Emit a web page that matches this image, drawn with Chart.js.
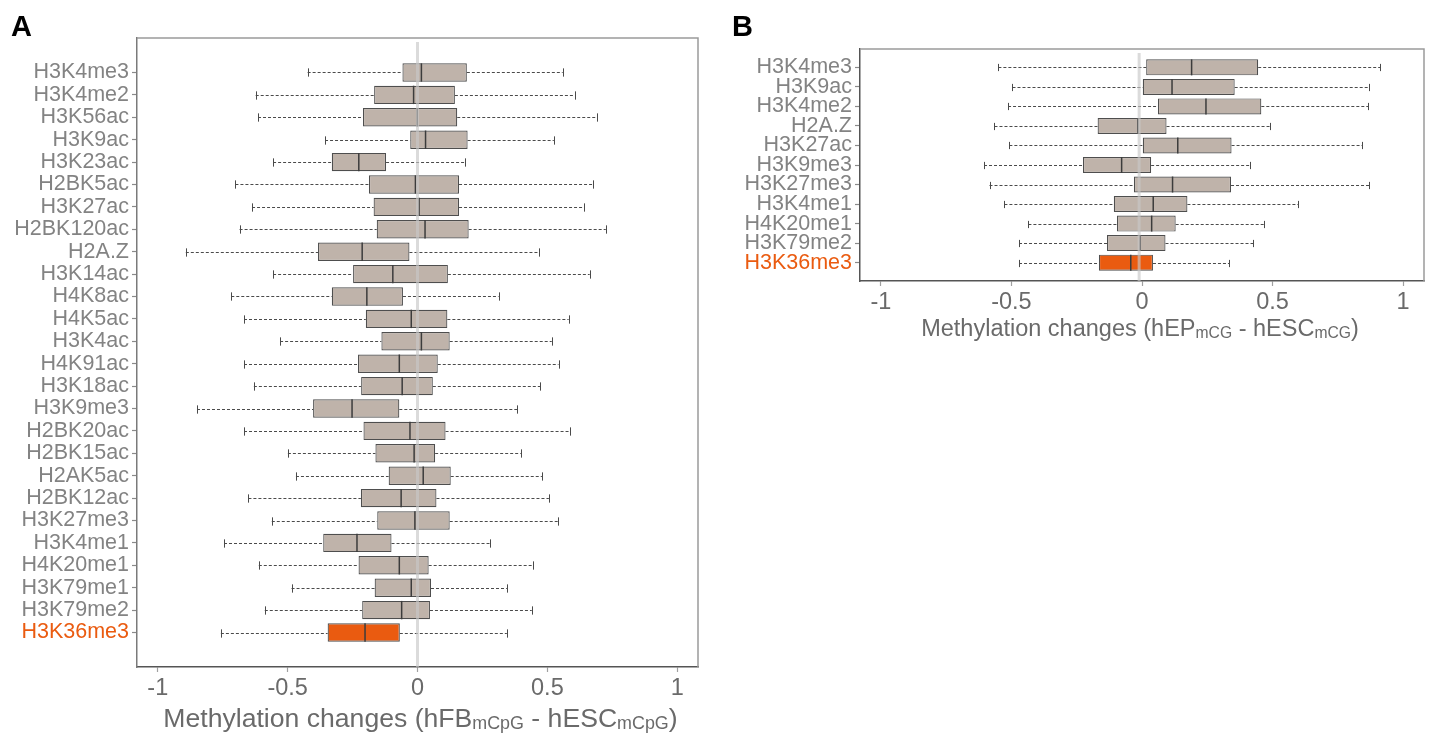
<!DOCTYPE html>
<html><head><meta charset="utf-8">
<script src="https://cdn.jsdelivr.net/npm/chart.js@4.4.1/dist/chart.umd.min.js"></script>
<style>
html,body{margin:0;padding:0;background:#fff;width:1435px;height:734px;overflow:hidden;position:relative;}
#wrapA{position:absolute;left:0;top:0;width:720px;height:734px;}
#wrapB{position:absolute;left:720px;top:0;width:715px;height:360px;}
.panel{position:absolute;font-family:'Liberation Sans',Arial,sans-serif;font-weight:bold;font-size:29px;line-height:29px;color:#000;}
.xt{position:absolute;font-family:'Liberation Sans',Arial,sans-serif;color:#6a6a6a;white-space:nowrap;text-align:center;}
.xt span{vertical-align:-1.5px;}
</style></head>
<body>
<div id="wrapA"><canvas id="cA" width="720" height="734"></canvas></div>
<div id="wrapB"><canvas id="cB" width="715" height="360"></canvas></div>
<div class="panel" style="left:11px;top:12px">A</div>
<div class="panel" style="left:732px;top:12px">B</div>
<div class="xt" style="left:140px;width:561px;top:705px;font-size:26.6px;line-height:26px">Methylation changes (hFB<span style="font-size:17.9px">mCpG</span> - hESC<span style="font-size:17.9px">mCpG</span>)</div>
<div class="xt" style="left:858px;width:564px;top:317px;font-size:23.5px;line-height:23.5px">Methylation changes (hEP<span style="font-size:15.7px">mCG</span> - hESC<span style="font-size:15.7px">mCG</span>)</div>
<script>
// ---------- Panel A data ----------
const catsA = ['H3K4me3','H3K4me2','H3K56ac','H3K9ac','H3K23ac','H2BK5ac','H3K27ac','H2BK120ac','H2A.Z','H3K14ac','H4K8ac','H4K5ac','H3K4ac','H4K91ac','H3K18ac','H3K9me3','H2BK20ac','H2BK15ac','H2AK5ac','H2BK12ac','H3K27me3','H3K4me1','H4K20me1','H3K79me1','H3K79me2','H3K36me3'];
const loA  = [-0.423,-0.623,-0.614,-0.356,-0.556,-0.701,-0.637,-0.685,-0.892,-0.556,-0.717,-0.668,-0.529,-0.668,-0.630,-0.849,-0.668,-0.499,-0.468,-0.651,-0.561,-0.745,-0.611,-0.485,-0.588,-0.757];
const q1A  = [-0.058,-0.167,-0.210,-0.028,-0.330,-0.187,-0.169,-0.157,-0.383,-0.248,-0.330,-0.199,-0.139,-0.229,-0.217,-0.402,-0.208,-0.162,-0.111,-0.218,-0.155,-0.363,-0.227,-0.165,-0.213,-0.346];
const medA = [0.015,-0.015,-0.001,0.031,-0.226,-0.008,0.006,0.029,-0.213,-0.095,-0.195,-0.024,0.015,-0.070,-0.059,-0.252,-0.029,-0.013,0.022,-0.063,-0.010,-0.233,-0.070,-0.024,-0.061,-0.202];
const q3A  = [0.190,0.144,0.153,0.193,-0.121,0.160,0.160,0.197,-0.031,0.117,-0.056,0.115,0.124,0.078,0.059,-0.070,0.108,0.068,0.128,0.073,0.124,-0.100,0.043,0.052,0.048,-0.068];
const hiA  = [0.559,0.605,0.692,0.525,0.183,0.676,0.642,0.725,0.467,0.663,0.312,0.582,0.517,0.543,0.472,0.384,0.586,0.398,0.479,0.506,0.540,0.278,0.444,0.344,0.440,0.344];
const refLineA = 0;

// ---------- Panel B data ----------
const catsB = ['H3K4me3','H3K9ac','H3K4me2','H2A.Z','H3K27ac','H3K9me3','H3K27me3','H3K4me1','H4K20me1','H3K79me2','H3K36me3'];
const loB  = [-0.550,-0.496,-0.513,-0.565,-0.508,-0.605,-0.584,-0.527,-0.435,-0.471,-0.471];
const q1B  = [0.016,0.003,0.061,-0.170,0.003,-0.226,-0.031,-0.108,-0.096,-0.134,-0.165];
const medB = [0.190,0.115,0.245,-0.016,0.137,-0.078,0.117,0.043,0.037,-0.007,-0.043];
const q3B  = [0.445,0.355,0.457,0.094,0.343,0.035,0.341,0.174,0.129,0.090,0.042];
const hiB  = [0.912,0.871,0.866,0.490,0.843,0.412,0.870,0.598,0.468,0.426,0.334];
const refLineB = -0.011;

// ---------- shared axis ticks ----------
const xTickValues = [-1, -0.5, 0, 0.5, 1];
const xTickLabels = ['-1', '-0.5', '0', '0.5', '1'];

const FONT = "'Liberation Sans', Arial, sans-serif";
const BOXFILL = '#bfb3aa';
const HIGHLIGHT = '#ea5b10';
const LABELGRAY = '#838383';

function makeBoxPlugin(lo, q1, med, q3, hi, refLine) {
  const capHalf = 0.185, boxHalf = 0.41;
  return {
    id: 'boxExtras',
    beforeDatasetsDraw(chart) {
      const {ctx, scales: {x, y}} = chart;
      ctx.save();
      ctx.strokeStyle = '#4a4a4a';
      ctx.lineWidth = 1;
      for (let i = 0; i < lo.length; i++) {
        const yc = Math.round(y.getPixelForValue(i + 1)) + 0.5;
        const h = Math.abs(y.getPixelForValue(i + 1 + capHalf) - y.getPixelForValue(i + 1));
        ctx.setLineDash([3, 2]);
        ctx.beginPath();
        ctx.moveTo(x.getPixelForValue(lo[i]), yc); ctx.lineTo(x.getPixelForValue(q1[i]), yc);
        ctx.moveTo(x.getPixelForValue(q3[i]), yc); ctx.lineTo(x.getPixelForValue(hi[i]), yc);
        ctx.stroke();
        ctx.setLineDash([]);
        ctx.beginPath();
        const xl = Math.round(x.getPixelForValue(lo[i])) + 0.5, xh = Math.round(x.getPixelForValue(hi[i])) + 0.5;
        ctx.moveTo(xl, yc - h); ctx.lineTo(xl, yc + h);
        ctx.moveTo(xh, yc - h); ctx.lineTo(xh, yc + h);
        ctx.stroke();
      }
      ctx.restore();
    },
    afterDatasetsDraw(chart) {
      const {ctx, chartArea: ca, scales: {x, y}} = chart;
      ctx.save();
      ctx.strokeStyle = '#3c3c3c';
      ctx.lineWidth = 1.5;
      for (let i = 0; i < med.length; i++) {
        const xm = x.getPixelForValue(med[i]);
        ctx.beginPath();
        ctx.moveTo(xm, y.getPixelForValue(i + 1 - boxHalf));
        ctx.lineTo(xm, y.getPixelForValue(i + 1 + boxHalf));
        ctx.stroke();
      }
      const xr = x.getPixelForValue(refLine);
      ctx.strokeStyle = 'rgba(200,200,200,0.65)';
      ctx.lineWidth = 3;
      ctx.beginPath();
      ctx.moveTo(xr, ca.top + 4); ctx.lineTo(xr, ca.bottom);
      ctx.stroke();
      ctx.strokeStyle = '#9a9a9a';
      ctx.lineWidth = 1.5;
      ctx.beginPath();
      ctx.moveTo(ca.left, ca.top); ctx.lineTo(ca.right, ca.top); ctx.lineTo(ca.right, ca.bottom);
      ctx.stroke();
      ctx.restore();
    }
  };
}

function makeChart(id, cats, lo, q1, med, q3, hi, refLine, lay) {
  const n = cats.length;
  const ext = 0.04 * n;
  return new Chart(document.getElementById(id), {
    type: 'bar',
    data: {
      datasets: [{
        data: cats.map((c, i) => ({x: [q1[i], q3[i]], y: i + 1})),
        backgroundColor: cats.map((c, i) => i === n - 1 ? HIGHLIGHT : BOXFILL),
        borderColor: '#4e4e4e',
        borderWidth: 1.2,
        borderSkipped: false,
        barPercentage: 0.82,
        categoryPercentage: 1
      }]
    },
    options: {
      indexAxis: 'y',
      responsive: false,
      animation: false,
      events: [],
      layout: {padding: {top: lay.top, right: lay.right, left: 0, bottom: 0}},
      plugins: {legend: {display: false}, tooltip: {enabled: false}, title: {display: false}},
      scales: {
        x: {
          type: 'linear', min: -1.08, max: 1.08, offset: false,
          afterBuildTicks: s => { s.ticks = xTickValues.map(v => ({value: v})); },
          afterFit: s => { s.height = lay.xh; },
          ticks: {callback: (v, i) => xTickLabels[i], color: '#6a6a6a', font: {family: FONT, size: 23.5}, padding: 2, maxRotation: 0, autoSkip: false},
          grid: {offset: false, drawOnChartArea: false, drawTicks: true, tickLength: 5, tickColor: '#a0a0a0', tickWidth: 1.2},
          border: {display: true, color: '#555555', width: 1.5}
        },
        y: {
          type: 'linear', reverse: true, min: 0.5 - ext, max: n + 0.5 + ext, offset: false,
          afterBuildTicks: s => { s.ticks = cats.map((c, i) => ({value: i + 1})); },
          afterFit: s => { s.width = lay.yw; },
          ticks: {callback: (v, i) => cats[i], color: ctx => ctx.index === n - 1 ? HIGHLIGHT : LABELGRAY, font: {family: FONT, size: 21.5}, padding: 3, autoSkip: false},
          grid: {offset: false, drawOnChartArea: false, drawTicks: true, tickLength: 5, tickColor: '#8a8a8a', tickWidth: 1.2},
          border: {display: true, color: lay.leftColor, width: 1.5}
        }
      }
    },
    plugins: [makeBoxPlugin(lo, q1, med, q3, hi, refLine)]
  });
}

makeChart('cA', catsA, loA, q1A, medA, q3A, hiA, refLineA, {top: 38, right: 22, xh: 67, yw: 137, leftColor: '#7a7a7a'});
makeChart('cB', catsB, loB, q1B, medB, q3B, hiB, refLineB, {top: 49, right: 11, xh: 79, yw: 140, leftColor: '#555555'});
</script>
</body></html>
